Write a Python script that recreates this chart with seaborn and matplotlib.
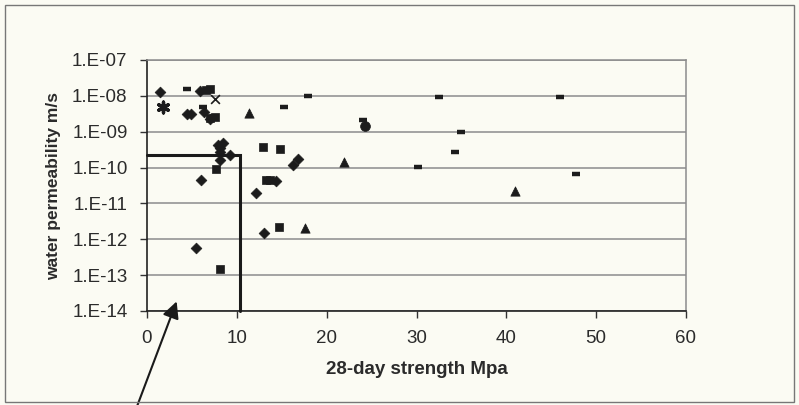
import matplotlib
matplotlib.use('Agg')
import matplotlib.pyplot as plt
import matplotlib.ticker as mticker
from matplotlib.patches import Rectangle
import seaborn as sns
import pandas as pd
import numpy as np

# data (x = 28-day strength MPa, y = permeability m/s)
diamond_x = [1.4, 4.4, 4.9, 5.9, 6.3, 7.0, 7.9, 8.1, 8.5, 8.1, 9.2, 8.1, 6.0, 12.1, 13.0, 5.5, 16.3, 16.8, 14.4]
diamond_y = [1.3e-8, 3.2e-9, 3.2e-9, 1.4e-8, 3.5e-9, 2.2e-9, 4.3e-10, 3.5e-10, 5.0e-10, 2.8e-10, 2.2e-10,
             1.6e-10, 4.4e-11, 2.0e-11, 1.5e-12, 5.6e-13, 1.2e-10, 1.7e-10, 4.3e-11]
square_x = [6.6, 7.0, 7.0, 7.6, 7.7, 8.1, 12.9, 14.8, 13.3, 13.7, 14.7]
square_y = [1.5e-8, 1.6e-8, 2.4e-9, 2.5e-9, 9.1e-11, 1.5e-13, 3.7e-10, 3.2e-10, 4.4e-11, 4.4e-11, 2.2e-12]
triangle_x = [11.4, 21.9, 41.0, 17.6]
triangle_y = [3.4e-9, 1.45e-10, 2.2e-11, 2.0e-12]
cross_x = [7.6]
cross_y = [8.1e-9]
star_x = [1.8]
star_y = [5.0e-9]
dash_x = [4.5, 6.2, 15.2, 17.9, 24.0, 32.5, 35.0, 34.3, 30.2, 46.0, 47.7]
dash_y = [1.6e-8, 4.8e-9, 5.0e-9, 1.0e-8, 2.1e-9, 9.5e-9, 1.0e-9, 2.8e-10, 1.07e-10, 9.1e-9, 6.8e-11]
circle_x = [24.3]
circle_y = [1.45e-9]

# limit box
box_x = 10.3
box_y = 2.2e-10
arrow_tip = (3.3, 1.85e-14)

x_ticks = [0, 10, 20, 30, 40, 50, 60]
y_ticks = [1e-14, 1e-13, 1e-12, 1e-11, 1e-10, 1e-9, 1e-8, 1e-7]

series = [
    ('diamond', diamond_x, diamond_y, 'D', 30, None),
    ('square', square_x, square_y, 's', 38, None),
    ('triangle', triangle_x, triangle_y, '^', 45, None),
    ('circle', circle_x, circle_y, 'o', 50, None),
    ('star', star_x, star_y, (6, 2, 0), 60, 2.4),
    ('cross', cross_x, cross_y, 'x', 40, 1.2),
    ('dash', dash_x, dash_y, '_', 40, 3.2),
]

sns.set_style('white')
plt.rcParams['font.family'] = ['Liberation Sans', 'DejaVu Sans']

bg = '#fbfbf3'
ink = '#1c1c1c'
txt = '#2b2b2b'

fig = plt.figure(figsize=(7.99, 4.05), dpi=100, facecolor=bg)
ax = fig.add_axes([147 / 799, 1 - 311 / 405, (686 - 147) / 799, (311 - 60) / 405])
ax.set_facecolor(bg)

for name, xs, ys, mk, size, lw in series:
    d = pd.DataFrame({'x': xs, 'y': ys})
    kw = dict(marker=mk, s=size, color=ink, ax=ax, legend=False, zorder=3)
    if lw is not None:
        kw['linewidth'] = lw
    else:
        kw['edgecolor'] = ink
        kw['linewidth'] = 0.5
    sns.scatterplot(data=d, x='x', y='y', **kw)

ax.set_yscale('log')
ax.set_xlim(0, 60)
ax.set_ylim(1e-14, 1e-7)
ax.set_xticks(x_ticks)
ax.set_yticks(y_ticks)
ax.yaxis.set_minor_locator(mticker.NullLocator())
ax.yaxis.set_major_formatter(mticker.FuncFormatter(
    lambda v, p: '1.E%03d' % int(round(np.log10(v)))))
ax.grid(axis='y', color='#8c8c8c', linewidth=1.1)
ax.grid(axis='x', visible=False)
ax.set_axisbelow(True)

for side in ['top', 'right']:
    ax.spines[side].set_color('#8c8c8c')
    ax.spines[side].set_linewidth(1.1)
for side in ['left', 'bottom']:
    ax.spines[side].set_color('#222222')
    ax.spines[side].set_linewidth(1.2)

ax.tick_params(axis='both', direction='out', length=5, width=1, color='#333333',
               labelsize=13.5, labelcolor=txt, left=True, bottom=True)
ax.tick_params(axis='y', pad=9)
ax.tick_params(axis='x', pad=9)

ax.set_xlabel('28-day strength Mpa', fontsize=13.5, fontweight='bold', color=txt, labelpad=10)
ax.set_ylabel('water permeability m/s', fontsize=12.5, fontweight='bold', color=txt, labelpad=8)

# limit box and arrow
ax.plot([0, box_x, box_x], [box_y, box_y, 1e-14], color='#1a1a1a', linewidth=2.2,
        solid_joinstyle='miter', zorder=4, clip_on=False)
ax.annotate('', xy=arrow_tip, xytext=(136 / 799, -0.01), textcoords='figure fraction',
            arrowprops=dict(arrowstyle='-|>,head_length=1.0,head_width=0.5', color='#1a1a1a',
                            lw=1.5, shrinkA=0, shrinkB=0), annotation_clip=False, zorder=5)

# outer chart frame
fig.patches.append(Rectangle((5 / 799, 3 / 405), 789 / 799, 397 / 405, transform=fig.transFigure,
                             fill=False, edgecolor='#777777', linewidth=1.0))

fig.savefig('out.png', dpi=100, facecolor=bg)
